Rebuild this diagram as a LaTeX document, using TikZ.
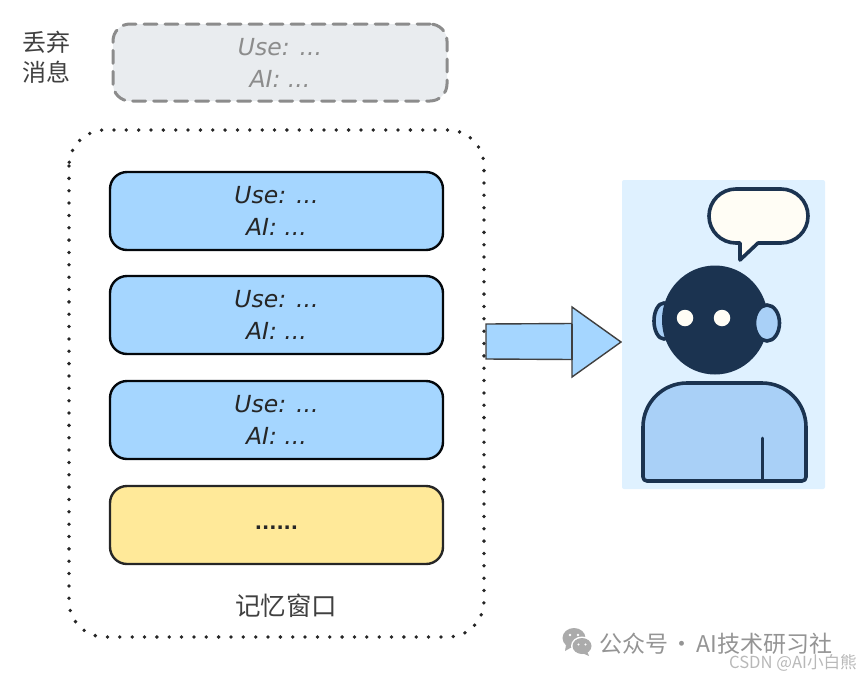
\documentclass[tikz,border=0pt]{standalone}
\usepackage{fontspec}
\setmainfont{DejaVu Sans}
\newfontfamily\cjk{Noto Sans CJK SC}
\usetikzlibrary{shapes.geometric}
\definecolor{ink}{HTML}{1B3350}
\definecolor{boxblue}{HTML}{A5D6FF}
\definecolor{boxyellow}{HTML}{FFE999}
\definecolor{boxgrey}{HTML}{E9ECEF}
\definecolor{panel}{HTML}{DFF1FF}
\definecolor{bodyblue}{HTML}{A9D0F7}
\definecolor{cream}{HTML}{FFFDF5}
\tikzset{
  msgbox/.style={draw=#1, line width=2.4pt, rounded corners=17pt, minimum width=333pt, minimum height=78pt,
    align=center, inner sep=0pt, font=\fontsize{23.5}{32}\selectfont\itshape},
  bluebox/.style={msgbox=black!85!ink, fill=boxblue, text=black!85},
  yellowbox/.style={msgbox=black!85, fill=boxyellow, text=black!85},
  dropbox/.style={msgbox=black!45, fill=boxgrey, text=black!45, dash pattern=on 13pt off 8pt, line width=3pt, line cap=round},
  cjklabel/.style={inner sep=0pt, align=center, text=black!75, font=\cjk\fontsize{24}{30}\selectfont},
  inkline/.style={draw=ink, line width=3.6pt},
}
\begin{document}
\begin{tikzpicture}[x=1pt,y=-1pt]
\useasboundingbox (0,0) rectangle (860,678);
% discarded
\node[dropbox, minimum width=334pt, minimum height=77pt] (dropped) at (280,62.5) {Use: ...\\AI: ...};
\node[cjklabel] (droplabel) at (47,57) {丢弃\\消息};
% window
\draw[line width=3.8pt, line cap=round, dash pattern=on 0pt off 12.35pt, rounded corners=36pt, black!85]
  (69,130) rectangle (484,637);
\node[bluebox] (m1) at (276.5,211) {Use: ...\\AI: ...};
\node[bluebox] (m2) at (276.5,315) {Use: ...\\AI: ...};
\node[bluebox] (m3) at (276.5,420) {Use: ...\\AI: ...};
\node[yellowbox] (m4) at (276.5,525) {\raisebox{-8pt}{\upshape\bfseries\fontsize{19}{19}\selectfont ......}};
\node[cjklabel, font=\cjk\fontsize{25.5}{30}\selectfont] (winlabel) at (286,606) {记忆窗口};
% arrow
\draw[fill=boxblue, draw=black!75, line width=1.4pt, line join=miter]
  (486,324) -- (572,323.5) -- (572,307) -- (621,342) -- (572,377) -- (572,359.5) -- (486,359) -- cycle;
\draw[draw=black!75, line width=1.4pt] (572,323.5) -- (572,359.5);
% agent panel
\fill[panel, rounded corners=2pt] (622,180) rectangle (825,489);
\draw[fill=cream, inkline, line join=round]
  (740,243) [rounded corners=27pt] -- (709,243) -- (709,189) -- (808,189) -- (808,243) [sharp corners] -- (758,243) -- (740,260) -- cycle;
\node[ellipse, inkline, fill=bodyblue, minimum width=20pt, minimum height=36pt, inner sep=0pt] (earL) at (664,321) {};
\node[ellipse, fill=ink, minimum width=106pt, minimum height=109pt, inner sep=0pt] (head) at (715,320) {};
\node[ellipse, inkline, fill=bodyblue, minimum width=25pt, minimum height=36pt, inner sep=0pt] (earR) at (767,323) {};
\node[circle, fill=cream, minimum size=16.5pt, inner sep=0pt] (eyeL) at (685,318) {};
\node[circle, fill=cream, minimum size=16.5pt, inner sep=0pt] (eyeR) at (722,318) {};
\draw[fill=bodyblue, inkline, line join=round]
  (724,383) [rounded corners=44pt] -- (806,383) [rounded corners=4pt] -- (806,481) -- (643,481) [rounded corners=44pt] -- (643,383) [sharp corners] -- cycle;
\draw[draw=ink, line width=3pt, line cap=round] (762,438) -- (762,481);
% watermark
\fill[black!33] (574,638) ellipse[x radius=11.5, y radius=10];
\fill[black!33] (566,645) -- (565,651) -- (572,647) -- cycle;
\fill[white] (582,646) ellipse[x radius=11, y radius=9.5];
\fill[black!33] (582,646) ellipse[x radius=9.5, y radius=8];
\fill[black!33] (587,651) -- (589,656) -- (582,653) -- cycle;
\fill[white] (570,635) circle[radius=1.4] (578,635) circle[radius=1.4] (578.5,644.5) circle[radius=1.2] (585.5,644.5) circle[radius=1.2];
\node[inner sep=0pt, anchor=west, text=black!42, font=\cjk\fontsize{23}{26}\selectfont] (wm1) at (599,644) {公众号\kern-2.5pt{} · \kern-2.5pt{}AI技术研习社};
\node[inner sep=0pt, anchor=east, text=black!28, font=\cjk\fontsize{16.6}{18}\selectfont] (wm2) at (857,663) {CSDN @AI小白熊};
\end{tikzpicture}
\end{document}
